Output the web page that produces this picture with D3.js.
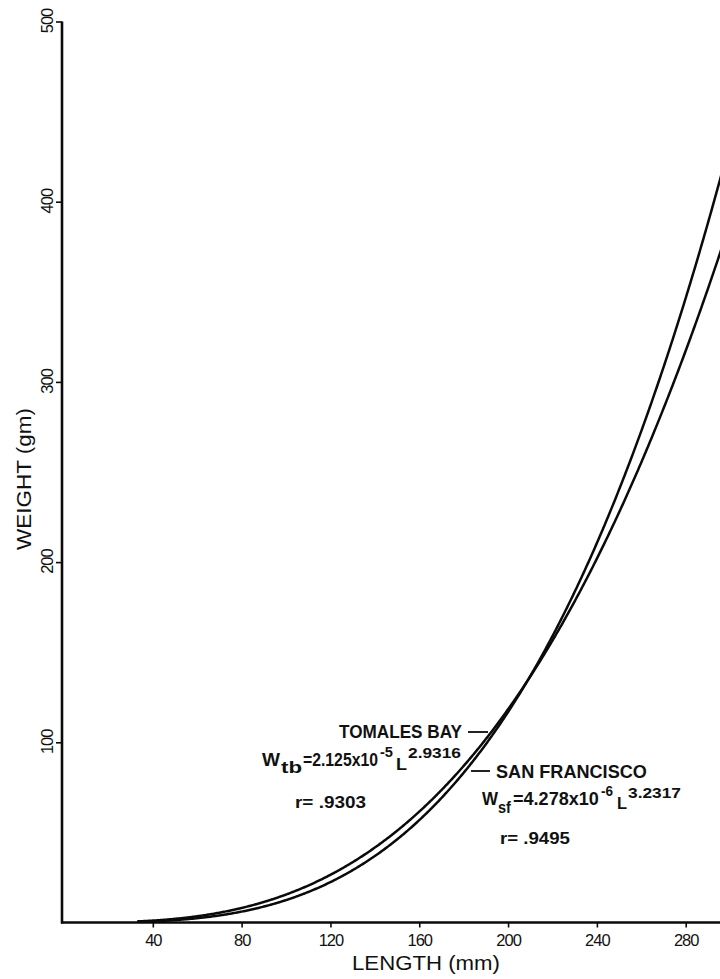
<!DOCTYPE html>
<html>
<head>
<meta charset="utf-8">
<script src="https://cdn.jsdelivr.net/npm/d3@7/dist/d3.min.js"></script>
<style>
  html, body { margin: 0; padding: 0; background: #fff; }
  svg { display: block; }
  text { fill: #111; }
</style>
</head>
<body>
<svg id="chart" width="720" height="979"></svg>
<script>
// Length–weight regressions, W = a · L^b, one per locality
const sites = ["TOMALES BAY", "SAN FRANCISCO"];
const coefA = [2.125e-5, 4.278e-6];
const coefB = [2.9316, 3.2317];
const mantissa = ["2.125", "4.278"];
const exponent = ["-5", "-6"];
const coefBText = ["2.9316", "3.2317"];
const subs = ["tb", "sf"];
const rValues = [".9303", ".9495"];
const lengthSpan = [33, 300];

const xTicks = [40, 80, 120, 160, 200, 240, 280];
const yTicks = [100, 200, 300, 400, 500];

const FONT = "Liberation Sans, Arial, Helvetica, sans-serif";
const INK = "#0a0a0a";

const svg = d3.select("#chart");
const x = d3.scaleLinear().domain([0, 295]).range([64, 719]);
const y = d3.scaleLinear().domain([0, 500]).range([922.5, 21.5]);

svg.append("defs").append("clipPath").attr("id", "plot")
  .append("rect").attr("x", x(0)).attr("y", 0).attr("width", 720 - x(0)).attr("height", y(0));

// fitted curves
const lengths = d3.range(lengthSpan[0], lengthSpan[1] + 0.001, 0.5);
const line = d3.line().x(d => x(d[0])).y(d => y(d[1]));
sites.forEach((s, i) => {
  const pts = lengths.map(L => [L, coefA[i] * Math.pow(L, coefB[i])]);
  svg.append("path")
    .attr("clip-path", "url(#plot)")
    .attr("d", line(pts))
    .attr("fill", "none")
    .attr("stroke", INK)
    .attr("stroke-width", 2.5);
});

// axes
const xAxis = svg.append("g").attr("transform", `translate(0,${y(0)})`)
  .call(d3.axisBottom(x).tickValues(xTicks).tickSize(5).tickSizeOuter(0).tickPadding(7));
xAxis.select(".domain").attr("d", `M${x(0) - 3},0H720`).attr("stroke", INK).attr("stroke-width", 2.6);
xAxis.selectAll(".tick line").attr("stroke", INK).attr("stroke-width", 1.6);
xAxis.selectAll(".tick text")
  .attr("font-family", FONT)
  .attr("font-size", 16.5).attr("fill", "#111").attr("letter-spacing", -1);

const yAxis = svg.append("g").attr("transform", `translate(${x(0) - 2},0)`)
  .call(d3.axisLeft(y).tickValues(yTicks).tickSize(6).tickSizeOuter(0));
yAxis.select(".domain").attr("d", `M0,${y(500)}V${y(0) + 1}`).attr("stroke", INK).attr("stroke-width", 2.6);
yAxis.selectAll(".tick line").attr("stroke", INK).attr("stroke-width", 1.6);
yAxis.selectAll(".tick text")
  .attr("x", null).attr("dy", null)
  .attr("transform", "translate(-9,-1) rotate(-90)")
  .attr("text-anchor", "middle")
  .attr("font-family", FONT)
  .attr("font-size", 16.5).attr("fill", "#111").attr("letter-spacing", -1);

// text squeezed horizontally to a given width, keeping glyph height
function fitText(px, py, size, width, str, weight, rotate) {
  const t = svg.append("text")
    .attr("font-family", FONT).attr("font-weight", weight || "normal")
    .attr("font-size", size)
    .text(str);
  const natural = t.node().getComputedTextLength();
  const sx = width / natural;
  if (rotate) {
    t.attr("text-anchor", "middle")
      .attr("transform", `translate(${px},${py}) rotate(-90) scale(${sx},1)`);
  } else {
    t.attr("transform", `translate(${px},${py}) scale(${sx},1)`);
  }
  return t;
}

// axis titles
fitText(352, 970, 21, 148, "LENGTH (mm)");
fitText(31, 479, 21, 142, "WEIGHT (gm)", "normal", true);

// annotations: site name with leader, regression equation, correlation
const labelPos = [
  { name: [339, 738, 123], lead: [468, 488, 732], r: [295, 808, 71] },
  { name: [496, 778, 151], lead: [471, 490, 771], r: [500, 844, 70] }
];
// equation pieces: [x, baseline, font size, width]
const eqLayout = [
  [[262, 766, 19, 18], [281, 773, 16, 21], [303, 766, 19, 75], [380, 757, 15, 13], [396, 770, 17, 11], [408, 758, 15, 53]],
  [[482, 805, 19, 16], [498, 813, 16, 13], [513, 805, 19, 86], [601, 795.5, 14.5, 12], [617, 809, 17, 10], [628, 798, 15, 53]]
];

sites.forEach((s, i) => {
  const p = labelPos[i];
  svg.append("line")
    .attr("x1", p.lead[0]).attr("x2", p.lead[1])
    .attr("y1", p.lead[2]).attr("y2", p.lead[2])
    .attr("stroke", INK).attr("stroke-width", 1.8);

  fitText(p.name[0], p.name[1], 18, p.name[2], s, "bold");

  const pieces = ["W", subs[i], "=" + mantissa[i] + "x10", exponent[i], "L", coefBText[i]];
  pieces.forEach((str, k) => {
    const [px, py, fs, w] = eqLayout[i][k];
    fitText(px, py, fs, w, str, "bold");
  });

  fitText(p.r[0], p.r[1], 17, p.r[2], "r= " + rValues[i], "bold");
});
</script>
</body>
</html>
